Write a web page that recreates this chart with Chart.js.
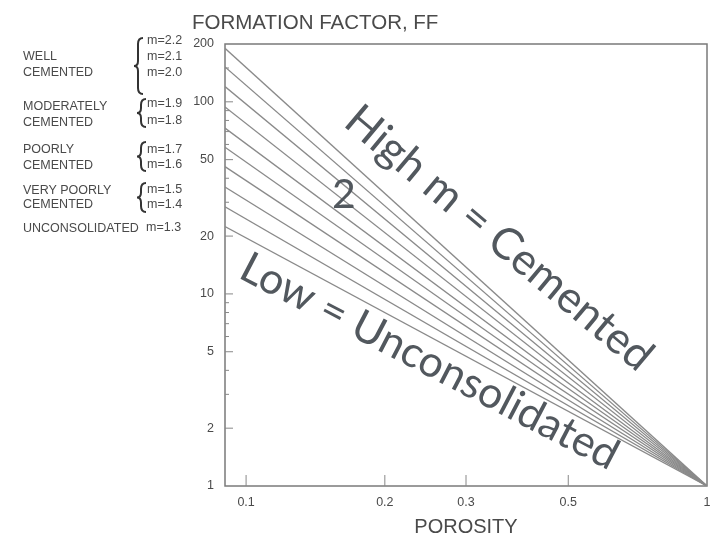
<!DOCTYPE html>
<html>
<head>
<meta charset="utf-8">
<script src="https://cdn.jsdelivr.net/npm/chart.js@4.4.1/dist/chart.umd.min.js"></script>
<style>
  body { margin: 0; background: #fff; }
  #wrap { width: 712px; height: 539px; }
</style>
</head>
<body>
<div id="wrap"><canvas id="ff" width="712" height="539"></canvas></div>
<script>
// Values
const porosityEnds = [0.09, 1];
const mLabels = ["m=2.2", "m=2.1", "m=2.0", "m=1.9", "m=1.8", "m=1.7", "m=1.6", "m=1.5", "m=1.4", "m=1.3"];
const ffAtLeft = [190, 152, 120, 94, 73, 58, 46, 36, 28.4, 22.4];
const ffAtRight = [1, 1, 1, 1, 1, 1, 1, 1, 1, 1];
const yTickValues = [1, 2, 5, 10, 20, 50, 100, 200];
const yMinorTicks = [3, 4, 6, 7, 8, 9, 30, 40, 60, 70, 80, 90, 150];
const xTickValues = [0.1, 0.2, 0.3, 0.5, 1];

// left-hand key: group names and the m labels beside each brace
const groupNames = [["WELL", "CEMENTED"], ["MODERATELY", "CEMENTED"], ["POORLY", "CEMENTED"], ["VERY POORLY", "CEMENTED"], ["UNCONSOLIDATED"]];
const groupMembers = [["m=2.2", "m=2.1", "m=2.0"], ["m=1.9", "m=1.8"], ["m=1.7", "m=1.6"], ["m=1.5", "m=1.4"], ["m=1.3"]];

const textGray = "#4a4a4a";
const lineGray = "#8a8a8a";

const datasets = mLabels.map((lbl, i) => ({
    label: lbl,
    data: [
        { x: porosityEnds[0], y: ffAtLeft[i] },
        { x: porosityEnds[1], y: ffAtRight[i] },
    ],
    showLine: true,
    borderColor: lineGray,
    borderWidth: 1.3,
    pointRadius: 0,
    fill: false,
}));

function drawBrace(ctx, x, y1, y2) {
    const ym = (y1 + y2) / 2;
    const w = 7;
    ctx.beginPath();
    ctx.moveTo(x + w, y1);
    ctx.quadraticCurveTo(x + 2, y1, x + 2, y1 + 6);
    ctx.lineTo(x + 2, ym - 5);
    ctx.quadraticCurveTo(x + 2, ym, x - 2, ym);
    ctx.quadraticCurveTo(x + 2, ym, x + 2, ym + 5);
    ctx.lineTo(x + 2, y2 - 6);
    ctx.quadraticCurveTo(x + 2, y2, x + w, y2);
    ctx.stroke();
}

const decorations = {
    id: "decorations",
    beforeDatasetsDraw(chart) {
        const { ctx, chartArea: a, scales } = chart;
        ctx.save();
        // frame
        ctx.strokeStyle = "#7a7a7a";
        ctx.lineWidth = 1.5;
        ctx.strokeRect(a.left, a.top, a.right - a.left, a.bottom - a.top);
        // inward tick marks
        ctx.lineWidth = 1;
        ctx.strokeStyle = "#888";
        ctx.beginPath();
        yTickValues.forEach(v => {
            if (v === 1 || v === 200) return;
            const y = scales.y.getPixelForValue(v);
            ctx.moveTo(a.left, y); ctx.lineTo(a.left + 8, y);
        });
        yMinorTicks.forEach(v => {
            const y = scales.y.getPixelForValue(v);
            ctx.moveTo(a.left, y); ctx.lineTo(a.left + 4, y);
        });
        xTickValues.forEach(v => {
            if (v === 1) return;
            const x = scales.x.getPixelForValue(v);
            ctx.moveTo(x, a.bottom); ctx.lineTo(x, a.bottom - 11);
        });
        ctx.stroke();

        // title
        ctx.fillStyle = textGray;
        ctx.font = "20.5px 'Liberation Sans', Arial, sans-serif";
        ctx.textBaseline = "alphabetic";
        ctx.textAlign = "left";
        ctx.fillText("FORMATION FACTOR, FF", 192, 29);

        // key on the left
        ctx.font = "12.5px 'Liberation Sans', Arial, sans-serif";
        ctx.textBaseline = "middle";
        const nameY = [[57, 73], [107, 123], [150, 166], [191, 205], [229]];
        const memberY = [[41, 57, 73], [104, 121], [150, 165], [190, 205], [228]];
        groupNames.forEach((g, i) => g.forEach((t, j) => ctx.fillText(t, 23, nameY[i][j])));
        groupMembers.forEach((g, i) => g.forEach((t, j) => ctx.fillText(t, i === 4 ? 146 : 147, memberY[i][j])));
        ctx.strokeStyle = "#333";
        ctx.lineWidth = 2;
        drawBrace(ctx, 136, 38, 94);
        drawBrace(ctx, 139, 99, 127);
        drawBrace(ctx, 139, 142, 171);
        drawBrace(ctx, 139, 183, 212);
        ctx.restore();
    },
    afterDatasetsDraw(chart) {
        const { ctx } = chart;
        ctx.save();
        ctx.fillStyle = "#52585e";
        ctx.textBaseline = "alphabetic";
        ctx.textAlign = "left";
        ctx.font = "44px Lato, 'Open Sans', sans-serif";
        ctx.save();
        ctx.translate(342, 125);
        ctx.rotate(40 * Math.PI / 180);
        ctx.fillText("High m = Cemented", 0, 0);
        ctx.restore();
        ctx.font = "43px Lato, 'Open Sans', sans-serif";
        ctx.save();
        ctx.translate(237, 277);
        ctx.rotate(27.5 * Math.PI / 180);
        ctx.fillText("Low = Unconsolidated", 0, 0);
        ctx.restore();
        ctx.font = "41px Lato, 'Open Sans', sans-serif";
        ctx.fillText("2", 332, 208);
        ctx.restore();
    }
};

new Chart(document.getElementById("ff").getContext("2d"), {
    type: "scatter",
    data: { datasets: datasets },
    plugins: [decorations],
    options: {
        responsive: false,
        animation: false,
        layout: { padding: { top: 44, right: 5, left: 0, bottom: 0 } },
        plugins: {
            legend: { display: false },
            tooltip: { enabled: false },
        },
        scales: {
            x: {
                type: "logarithmic",
                min: 0.09,
                max: 1,
                afterBuildTicks: (scale) => { scale.ticks = xTickValues.map(v => ({ value: v })); },
                afterFit: (scale) => { scale.height = 53; scale.paddingLeft = 0; scale.paddingRight = 0; },
                grid: { display: false, drawTicks: false },
                border: { display: false },
                ticks: {
                    autoSkip: false,
                    maxRotation: 0,
                    padding: 9,
                    color: textGray,
                    font: { family: "'Liberation Sans', Arial, sans-serif", size: 12.5 },
                    callback: (v) => String(v),
                },
                title: {
                    display: true,
                    text: "POROSITY",
                    color: textGray,
                    padding: { top: 0, bottom: 0 },
                    font: { family: "'Liberation Sans', Arial, sans-serif", size: 20 },
                },
            },
            y: {
                type: "logarithmic",
                min: 1,
                max: 200,
                afterBuildTicks: (scale) => { scale.ticks = yTickValues.map(v => ({ value: v })); },
                afterFit: (scale) => { scale.width = 225; scale.paddingTop = 0; scale.paddingBottom = 0; },
                grid: { display: false, drawTicks: false },
                border: { display: false },
                ticks: {
                    autoSkip: false,
                    padding: 11,
                    color: textGray,
                    font: { family: "'Liberation Sans', Arial, sans-serif", size: 12.5 },
                    callback: (v) => String(v),
                },
            },
        },
    },
});
</script>
</body>
</html>
